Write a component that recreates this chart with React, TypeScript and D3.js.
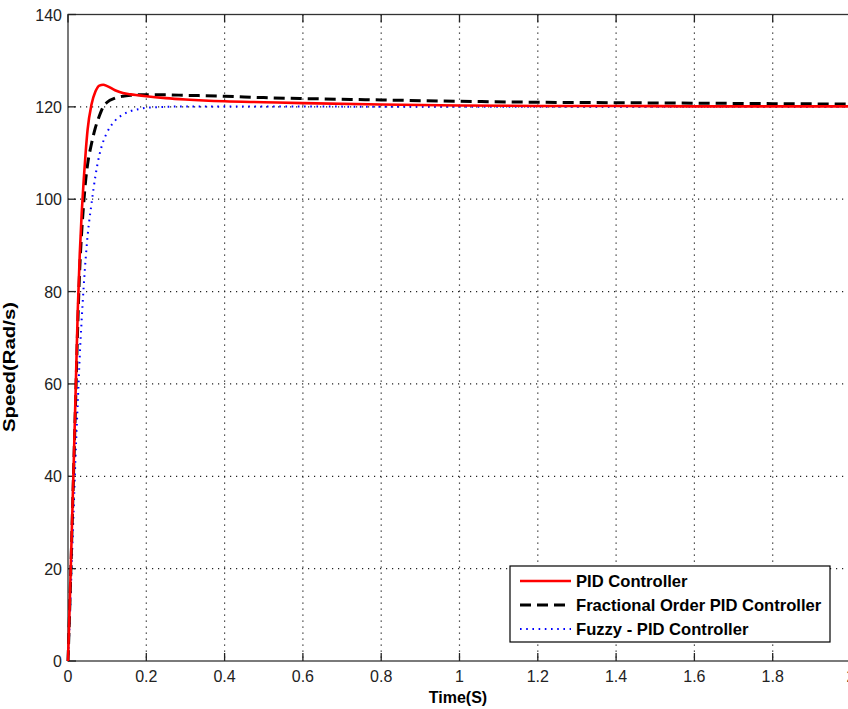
import { useEffect, useRef } from 'react'
import * as d3 from 'd3'

// sample times (s)
const time = [0, 0.005, 0.01, 0.015, 0.02, 0.025, 0.03, 0.035, 0.04, 0.045, 0.05, 0.06, 0.07, 0.08, 0.09, 0.1, 0.12, 0.14, 0.16, 0.18, 0.2, 0.25, 0.3, 0.4, 0.5, 0.6, 0.8, 1.0, 1.2, 1.4, 1.6, 1.8, 2.0]

// speed (rad/s) for each controller
const pidSpeed = [0, 14, 29, 44, 60, 76, 88, 97, 104, 110, 115, 120.5, 123.3, 124.6, 124.8, 124.5, 123.6, 123, 122.7, 122.5, 122.3, 121.9, 121.6, 121.2, 121.0, 120.8, 120.5, 120.3, 120.2, 120.2, 120.1, 120.1, 120.1]
const fopidSpeed = [0, 13, 28, 43, 58, 73, 85, 93, 99, 104, 107.5, 112, 115.5, 118, 120, 121, 121.9, 122.3, 122.5, 122.6, 122.6, 122.6, 122.5, 122.3, 122.0, 121.8, 121.5, 121.2, 121.0, 120.9, 120.8, 120.7, 120.6]
const fuzzySpeed = [0, 10, 22, 34, 46, 56, 66, 74, 81, 87, 92, 99, 105, 109.5, 112.5, 114.5, 117, 118.3, 119.1, 119.5, 119.8, 120, 120.1, 120.1, 120.1, 120.1, 120.0, 120.0, 120.0, 120.0, 120.0, 120.0, 120.0]

const xTicks = [0, 0.2, 0.4, 0.6, 0.8, 1, 1.2, 1.4, 1.6, 1.8, 2]
const yTicks = [0, 20, 40, 60, 80, 100, 120, 140]

const seriesNames = ['PID Controller', 'Fractional Order PID Controller', 'Fuzzy - PID Controller']

const App = () => {
  const ref = useRef<SVGSVGElement>(null)

  useEffect(() => {
    if (!ref.current) return
    const svg = d3.select(ref.current)
    svg.selectAll('*').remove()

    // the right edge of the axes sits just past the picture, as in the original
    const left = 68, right = 851, top = 14.5, bottom = 661
    const x = d3.scaleLinear().domain([0, 2]).range([left, right])
    const y = d3.scaleLinear().domain([0, 140]).range([bottom, top])

    svg.append('rect').attr('width', 848).attr('height', 709).attr('fill', 'white')

    // grid
    const grid = svg.append('g').attr('stroke', '#222').attr('stroke-width', 1.2).attr('stroke-dasharray', '1.2,4.8')
    xTicks.slice(1, -1).forEach(t => {
      grid.append('line').attr('x1', x(t)).attr('x2', x(t)).attr('y1', top).attr('y2', bottom)
    })
    yTicks.slice(1, -1).forEach(t => {
      grid.append('line').attr('x1', left).attr('x2', right).attr('y1', y(t)).attr('y2', y(t))
    })

    // axes box
    svg.append('rect')
      .attr('x', left).attr('y', top)
      .attr('width', right - left).attr('height', bottom - top)
      .attr('fill', 'none').attr('stroke', '#333').attr('stroke-width', 1.3)

    // ticks (inside)
    const ticks = svg.append('g').attr('stroke', '#222').attr('stroke-width', 1.3)
    xTicks.forEach(t => {
      ticks.append('line').attr('x1', x(t)).attr('x2', x(t)).attr('y1', bottom).attr('y2', bottom - 8)
      ticks.append('line').attr('x1', x(t)).attr('x2', x(t)).attr('y1', top).attr('y2', top + 8)
    })
    yTicks.forEach(t => {
      ticks.append('line').attr('x1', left).attr('x2', left + 8).attr('y1', y(t)).attr('y2', y(t))
    })

    const font = 'Liberation Sans, Arial, sans-serif'

    svg.append('g').selectAll('text')
      .data(xTicks)
      .enter()
      .append('text')
      .attr('x', d => x(d))
      .attr('y', 682)
      .attr('text-anchor', 'middle')
      .style('font-family', font)
      .style('font-size', '16px')
      .style('fill', '#222')
      .text(d => String(d))

    svg.append('g').selectAll('text')
      .data(yTicks)
      .enter()
      .append('text')
      .attr('x', 62)
      .attr('y', d => y(d) + 6)
      .attr('text-anchor', 'end')
      .style('font-family', font)
      .style('font-size', '16px')
      .style('fill', '#222')
      .text(d => String(d))

    // axis labels
    svg.append('text')
      .attr('x', 458).attr('y', 703)
      .attr('text-anchor', 'middle')
      .style('font-family', font).style('font-size', '16px').style('font-weight', 'bold')
      .text('Time(S)')

    svg.append('text')
      .attr('transform', 'translate(15,367) rotate(-90)')
      .attr('text-anchor', 'middle')
      .attr('textLength', 130)
      .attr('lengthAdjust', 'spacingAndGlyphs')
      .style('font-family', font).style('font-size', '16px').style('font-weight', 'bold')
      .text('Speed(Rad/s)')

    // lines
    const line = d3.line<number>()
      .x((_, i) => x(time[i]))
      .y(d => y(d))
      .curve(d3.curveMonotoneX)

    const styles = [
      { data: pidSpeed, color: '#ff0000', width: 2.6, dash: null },
      { data: fopidSpeed, color: '#000000', width: 3, dash: '11,6' },
      { data: fuzzySpeed, color: '#0000ff', width: 2, dash: '1.6,4.6' },
    ]

    const plot = svg.append('g')
    ;[...styles].reverse().forEach(s => {
      plot.append('path')
        .attr('d', line(s.data))
        .attr('fill', 'none')
        .attr('stroke', s.color)
        .attr('stroke-width', s.width)
        .attr('stroke-dasharray', s.dash)
    })

    // legend
    const lg = svg.append('g')
    lg.append('rect')
      .attr('x', 510).attr('y', 566).attr('width', 320).attr('height', 76)
      .attr('fill', 'white').attr('stroke', '#000').attr('stroke-width', 1.2)
    styles.forEach((s, i) => {
      const cy = 581 + i * 24
      lg.append('line')
        .attr('x1', 520).attr('x2', 571).attr('y1', cy).attr('y2', cy)
        .attr('stroke', s.color).attr('stroke-width', s.width)
        .attr('stroke-dasharray', s.dash)
      lg.append('text')
        .attr('x', 576).attr('y', cy + 6)
        .style('font-family', font).style('font-size', '16.6px').style('font-weight', 'bold')
        .text(seriesNames[i])
    })
  }, [])

  return (
    <div style={{ position: 'absolute', left: 0, top: 0 }}>
      <svg ref={ref} width={848} height={709} style={{ display: 'block' }} />
    </div>
  )
}

export default App
